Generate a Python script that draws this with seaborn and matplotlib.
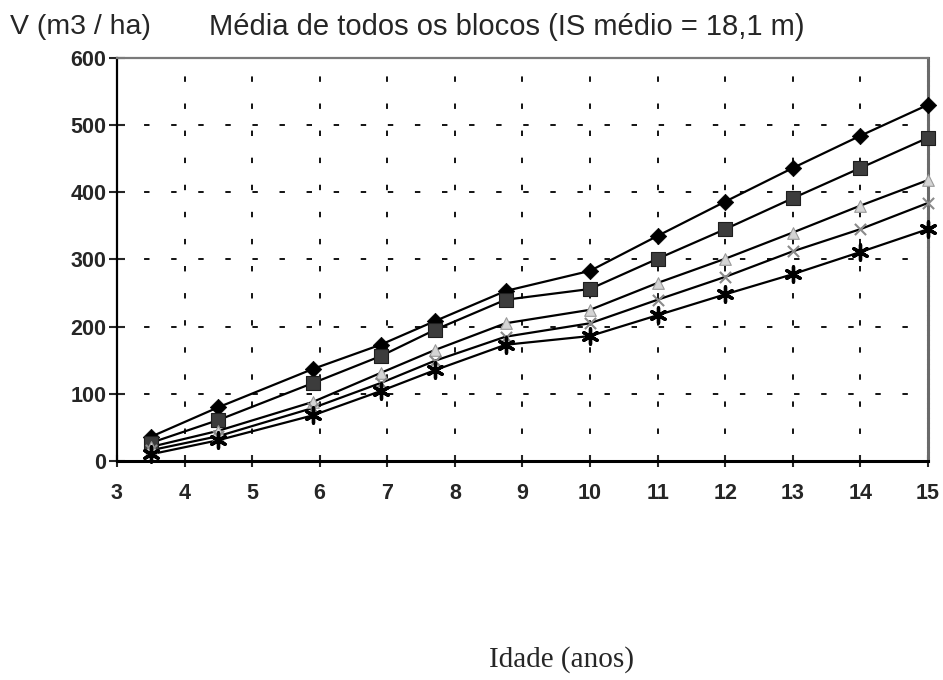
import numpy as np
import pandas as pd
import matplotlib
matplotlib.use("Agg")
import matplotlib.pyplot as plt
import seaborn as sns

# Volume por idade, media de todos os blocos
idade = [3.5, 4.5, 5.9, 6.9, 7.7, 8.75, 10, 11, 12, 13, 14, 15]
serie_1 = [36, 80, 137, 173, 208, 253, 283, 335, 386, 436, 484, 530]
serie_2 = [27, 61, 116, 156, 195, 240, 256, 301, 345, 391, 436, 481]
serie_3 = [21, 45, 88, 131, 165, 205, 225, 265, 301, 340, 380, 418]
serie_4 = [16, 37, 79, 116, 149, 185, 205, 240, 274, 312, 345, 384]
serie_5 = [10, 31, 68, 104, 135, 173, 186, 217, 248, 278, 311, 345]
x_ticks = list(range(3, 16))
y_ticks = [0, 100, 200, 300, 400, 500, 600]

series = [serie_1, serie_2, serie_3, serie_4, serie_5]

sns.set_style("white")
plt.rcParams["font.family"] = ["Liberation Sans", "DejaVu Sans"]

fig = plt.figure(figsize=(9.43, 6.8), dpi=100)
ax = fig.add_axes([0.124, 0.322, 0.86, 0.593])

# marker styles per serie (marker, face, edge, size, edge width)
estilos = [
    ("D", "black", "black", 70, 0.5),
    ("s", "#3c3c3c", "#1e1e1e", 100, 0.8),
    ("^", "#d4d4d4", "#9a9a9a", 70, 0.8),
    ("x", "#8a8a8a", "#8a8a8a", 65, 1.5),
    ((6, 2, 0), "black", "black", 120, 2.4),
]

for vals, (mk, fc, ec, sz, lw) in zip(series, estilos):
    df = pd.DataFrame({"idade": idade, "V": vals})
    sns.lineplot(data=df, x="idade", y="V", ax=ax, color="black", linewidth=1.6)
    sns.scatterplot(data=df, x="idade", y="V", ax=ax, marker=mk, s=sz,
                    color=fc, edgecolor=ec, linewidth=lw, zorder=5, clip_on=False)

ax.set_xlim(3, 15)
ax.set_ylim(0, 600)
ax.set_xticks(x_ticks)
ax.set_yticks(y_ticks)
ax.set_xlabel("")
ax.set_ylabel("")

ax.grid(True, color="black", linestyle=(0, (3, 12)), linewidth=1.3)
ax.set_axisbelow(True)

for side in ["left", "bottom"]:
    ax.spines[side].set_color("black")
ax.spines["left"].set_linewidth(1.6)
ax.spines["bottom"].set_linewidth(2.2)
ax.spines["top"].set_color("#7a7a7a")
ax.spines["top"].set_linewidth(1.6)
ax.spines["right"].set_color("#6a6a6a")
ax.spines["right"].set_linewidth(2.2)
ax.spines["right"].set_linestyle((0, (1, 0.6)))

ax.tick_params(axis="y", direction="inout", length=11, width=1.5, pad=2,
               labelsize=15.5, left=True)
ax.tick_params(axis="x", direction="inout", length=9, width=1.5, pad=11,
               labelsize=15.5, bottom=True)
for lab in ax.get_xticklabels() + ax.get_yticklabels():
    lab.set_fontweight("bold")

fig.text(0.537, 0.96, "Média de todos os blocos (IS médio = 18,1 m)",
         ha="center", va="center", fontsize=21)
fig.text(0.011, 0.96, "V (m3 / ha)", ha="left", va="center", fontsize=20.5)
fig.text(0.595, 0.03, "Idade (anos)", ha="center", va="center",
         fontsize=21, family=["Liberation Serif", "DejaVu Serif"])

fig.savefig("out.png", dpi=100)
